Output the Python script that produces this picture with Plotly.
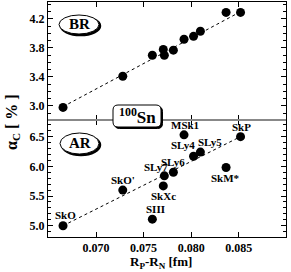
import plotly.graph_objects as go

# ---- data ----
models = ["SkO", "SkO'", "SIII", "SkXc", "SLy7", "SLy6", "MSk1", "SLy4", "SLy5", "SkM*", "SkP"]
rp_rn = [0.06653, 0.07281, 0.07592, 0.07707, 0.07718, 0.07813, 0.07925, 0.08025, 0.08097, 0.08367, 0.08519]
alpha_br = [2.98, 3.41, 3.70, 3.78, 3.70, 3.77, 3.92, 3.96, 4.03, 4.29, 4.29]
alpha_ar = [5.00, 5.60, 5.11, 5.67, 5.84, 5.90, 6.53, 6.17, 6.24, 5.98, 6.50]
fit_x = [0.06653, 0.08519]
fit_br = [2.99, 4.30]
fit_ar = [5.00, 6.50]
x_ticks = [0.070, 0.075, 0.080, 0.085]
x_ticktext = ["0.070", "0.075", "0.080", "0.085"]
br_ticks = [3.0, 3.4, 3.8, 4.2]
br_ticktext = ["3.0", "3.4", "3.8", "4.2"]
ar_ticks = [5.0, 5.5, 6.0, 6.5]
ar_ticktext = ["5.0", "5.5", "6.0", "6.5"]
# label offsets (pixels) relative to each point in the AR panel
lab_dx = [2, 0, 3, 0, -8, 0, 1, -11, 10, -1, 1]
lab_dy = [-11, -10, -10, 10, -9, -10, -10, -11, -10, 10, -10]

W, H = 291, 272
L, R, T, B = 48, 5, 2, 35
PW, PH = W - L - R, H - T - B

def px(x):
    return (x - L) / PW

def py(y):
    return (H - B - y) / PH

split = py(120)
FONT = "Liberation Serif"

fig = go.Figure()
fig.add_trace(go.Scatter(x=fit_x, y=fit_br, mode="lines", xaxis="x2", yaxis="y2",
                         line=dict(color="black", width=1, dash="dot"), showlegend=False))
fig.add_trace(go.Scatter(x=rp_rn, y=alpha_br, mode="markers", xaxis="x2", yaxis="y2",
                         marker=dict(color="black", size=9), showlegend=False))
fig.add_trace(go.Scatter(x=fit_x, y=fit_ar, mode="lines", xaxis="x", yaxis="y",
                         line=dict(color="black", width=1, dash="dot"), showlegend=False))
fig.add_trace(go.Scatter(x=rp_rn, y=alpha_ar, mode="markers", xaxis="x", yaxis="y",
                         marker=dict(color="black", size=9), showlegend=False))

for m, xv, yv, dx, dy in zip(models, rp_rn, alpha_ar, lab_dx, lab_dy):
    fig.add_annotation(x=xv, y=yv, xref="x", yref="y", text=f"<b>{m}</b>", showarrow=False,
                       xshift=dx, yshift=-dy, xanchor="center", yanchor="middle",
                       font=dict(family=FONT, size=11, color="black"))

ax_common = dict(showline=True, linecolor="black", linewidth=1, mirror="ticks",
                 ticks="inside", ticklen=5, tickcolor="black", showgrid=False, zeroline=False,
                 tickfont=dict(family=FONT, size=12, color="black"))
xr = [0.06495, 0.08997]
bold = lambda lst: [f"<b>{s}</b>" for s in lst]
fig.update_layout(
    width=W, height=H, margin=dict(l=L, r=R, t=T, b=B),
    paper_bgcolor="white", plot_bgcolor="white", showlegend=False,
    xaxis=dict(range=xr, anchor="y", tickvals=x_ticks, ticktext=bold(x_ticktext), **ax_common),
    xaxis2=dict(range=xr, anchor="y2", tickvals=x_ticks, showticklabels=False, **ax_common),
    yaxis=dict(domain=[0, split], range=[4.81, 6.78], tickvals=ar_ticks, ticktext=bold(ar_ticktext),
               anchor="x", minor=dict(dtick=0.1, tick0=5.0, ticks="inside", ticklen=3, tickcolor="black"),
               **ax_common),
    yaxis2=dict(domain=[split, 1], range=[2.806, 4.434], tickvals=br_ticks, ticktext=bold(br_ticktext),
                anchor="x2", minor=dict(dtick=0.1, tick0=3.0, ticks="inside", ticklen=3, tickcolor="black"),
                **ax_common),
)

shapes = []
shapes.append(dict(type="line", xref="paper", yref="paper", x0=0, x1=1, y0=split, y1=split,
                   line=dict(color="#888888", width=2), layer="above"))

def ellipse(x0, y0, x1, y1):
    shapes.append(dict(type="circle", xref="paper", yref="paper",
                       x0=px(x0 + 1.5), x1=px(x1 + 1.5), y0=py(y1 + 1.5), y1=py(y0 + 1.5),
                       line=dict(color="black", width=1.5), fillcolor="black", layer="above"))
    shapes.append(dict(type="circle", xref="paper", yref="paper",
                       x0=px(x0), x1=px(x1), y0=py(y1), y1=py(y0),
                       line=dict(color="black", width=1), fillcolor="white", layer="above"))

ellipse(59, 15, 99, 34)
ellipse(60, 133, 99, 154)

def rrect(x0, y0, x1, y1, r, fill, lw):
    pts = (f"M {px(x0 + r)} {py(y0)} L {px(x1 - r)} {py(y0)} "
           f"Q {px(x1)} {py(y0)} {px(x1)} {py(y0 + r)} L {px(x1)} {py(y1 - r)} "
           f"Q {px(x1)} {py(y1)} {px(x1 - r)} {py(y1)} L {px(x0 + r)} {py(y1)} "
           f"Q {px(x0)} {py(y1)} {px(x0)} {py(y1 - r)} L {px(x0)} {py(y0 + r)} "
           f"Q {px(x0)} {py(y0)} {px(x0 + r)} {py(y0)} Z")
    shapes.append(dict(type="path", xref="paper", yref="paper", path=pts,
                       line=dict(color="black", width=lw), fillcolor=fill, layer="above"))

rrect(114.5, 106.5, 162.5, 128.5, 5, "black", 1)
rrect(113, 105, 161, 127, 5, "white", 1)
fig.update_layout(shapes=shapes)

def txt(x, y, s, size, **kw):
    fig.add_annotation(x=px(x), y=py(y), xref="paper", yref="paper", text=f"<b>{s}</b>",
                       showarrow=False, xanchor="center", yanchor="middle",
                       font=dict(family=FONT, size=size, color="black"), **kw)

txt(79, 24.5, "BR", 15)
txt(80, 143.5, "AR", 15)
txt(137, 116, "<sup>100</sup>Sn", 17)
txt(12, 122, "α<sub>C</sub> [ % ]", 16, textangle=-90)
txt(161, 262, "R<sub>P</sub>-R<sub>N</sub> [fm]", 13)

fig.write_html("out.html", config={"displayModeBar": False},
               post_script="document.body.style.margin='0';document.body.style.overflow='hidden';")
